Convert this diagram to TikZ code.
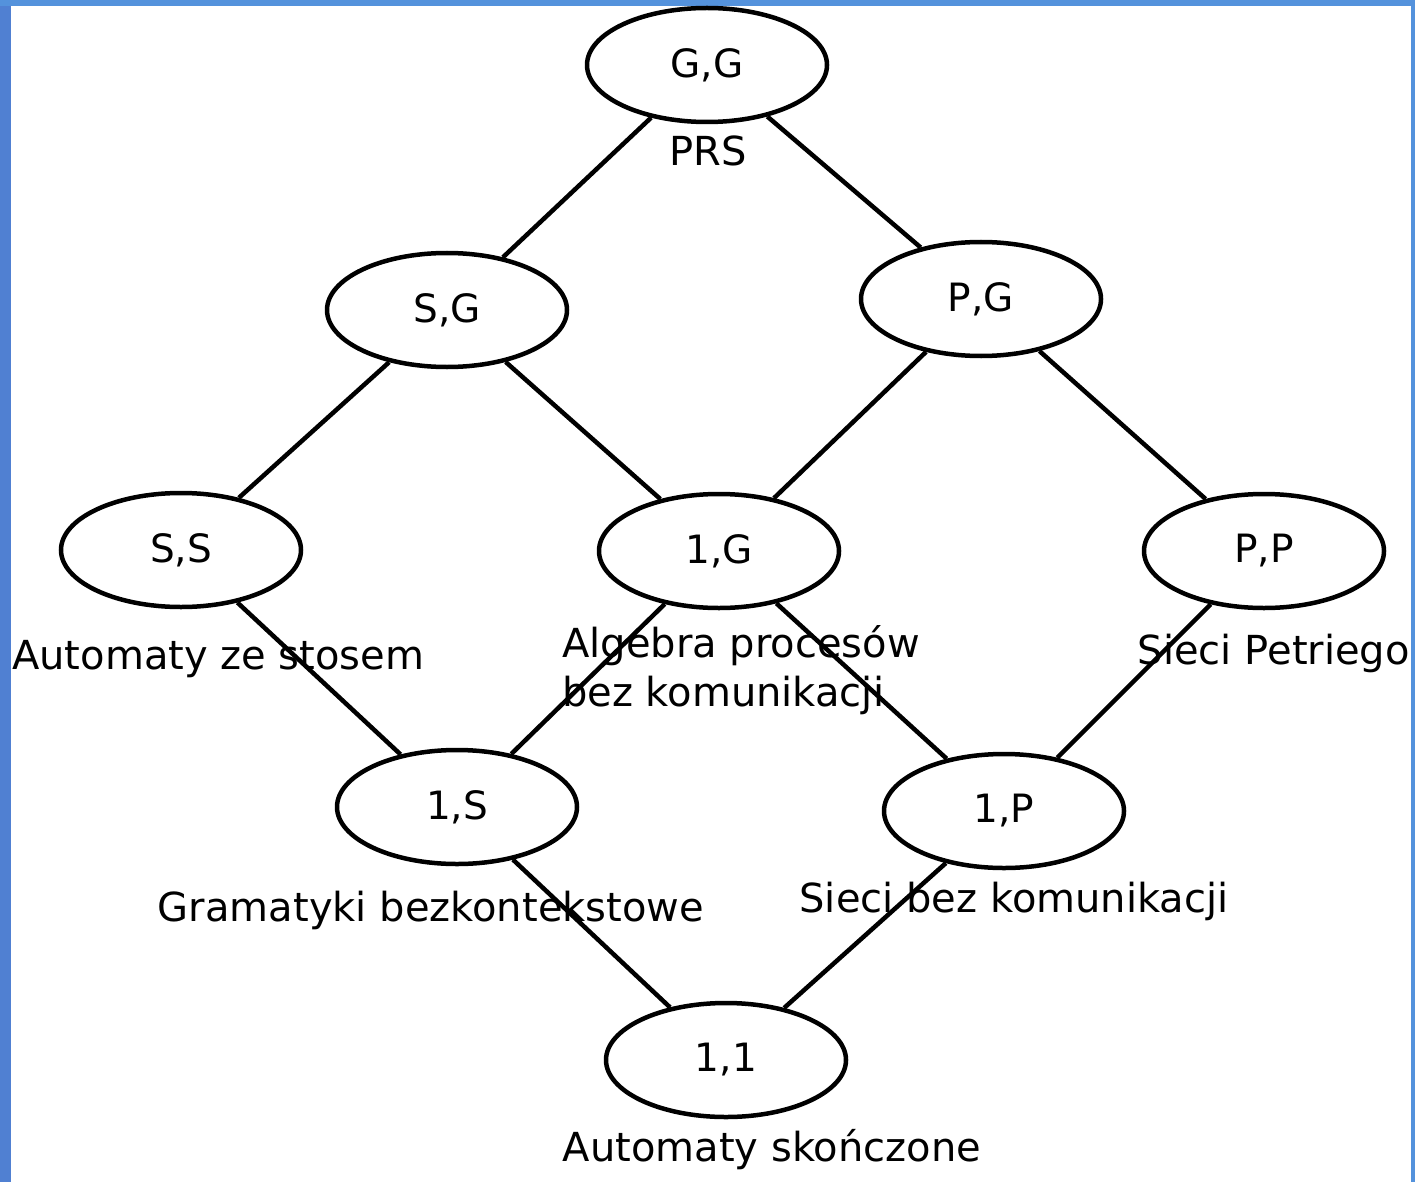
\documentclass[tikz,border=0pt]{standalone}
\usepackage{fontspec}
\setmainfont{DejaVu Sans}
\usetikzlibrary{shapes.geometric}
\definecolor{frameblue}{RGB}{84,146,220}
\definecolor{frameleft}{RGB}{80,128,210}
\begin{document}
\begin{tikzpicture}[x=1pt,y=-1pt,
  state/.style={ellipse,draw=black,line width=4.5pt,minimum width=240pt,minimum height=114pt,inner sep=0pt,font=\fontsize{39pt}{46pt}\selectfont},
  lab/.style={anchor=base,inner sep=0pt,font=\fontsize{40pt}{49pt}\selectfont},
  edge/.style={line width=4.5pt}]
\useasboundingbox (0,0) rectangle (1415,1182);
\fill[white] (0,0) rectangle (1415,1182);
\fill[frameleft] (0,0) rectangle (11,1182);
\fill[frameblue] (0,0) rectangle (1415,6);
\fill[frameblue] (1411,0) rectangle (1415,1182);

\node[state] (GG) at (707,65) {G,G};
\node[state] (SG) at (447,310) {S,G};
\node[state] (PG) at (981,299) {P,G};
\node[state] (SS) at (181,550) {S,S};
\node[state] (1G) at (719,551) {1,G};
\node[state] (PP) at (1264,551) {P,P};
\node[state] (1S) at (457,807) {1,S};
\node[state] (1P) at (1004,811) {1,P};
\node[state] (11) at (726,1060) {1,1};

\draw[edge] (GG) -- (SG);
\draw[edge] (GG) -- (PG);
\draw[edge] (SG) -- (SS);
\draw[edge] (SG) -- (1G);
\draw[edge] (PG) -- (1G);
\draw[edge] (PG) -- (PP);
\draw[edge] (SS) -- (1S);
\draw[edge] (1G) -- (1S);
\draw[edge] (1G) -- (1P);
\draw[edge] (PP) -- (1P);
\draw[edge] (1S) -- (11);
\draw[edge] (1P) -- (11);

\node[lab] (lPRS) at (708,166) {PRS};
\node[lab,anchor=base west] (lSS) at (12,669) {Automaty ze stosem};
\node[lab,anchor=base west] (l1Ga) at (562,657) {Algebra procesów};
\node[lab,anchor=base west] (l1Gb) at (562,706) {bez komunikacji};
\node[lab,anchor=base east] (lPP) at (1410,664) {Sieci Petriego};
\node[lab] (l1S) at (431,921) {Gramatyki bezkontekstowe};
\node[lab] (l1P) at (1014,912) {Sieci bez komunikacji};
\node[lab] (l11) at (772,1161) {Automaty skończone};
\end{tikzpicture}
\end{document}
